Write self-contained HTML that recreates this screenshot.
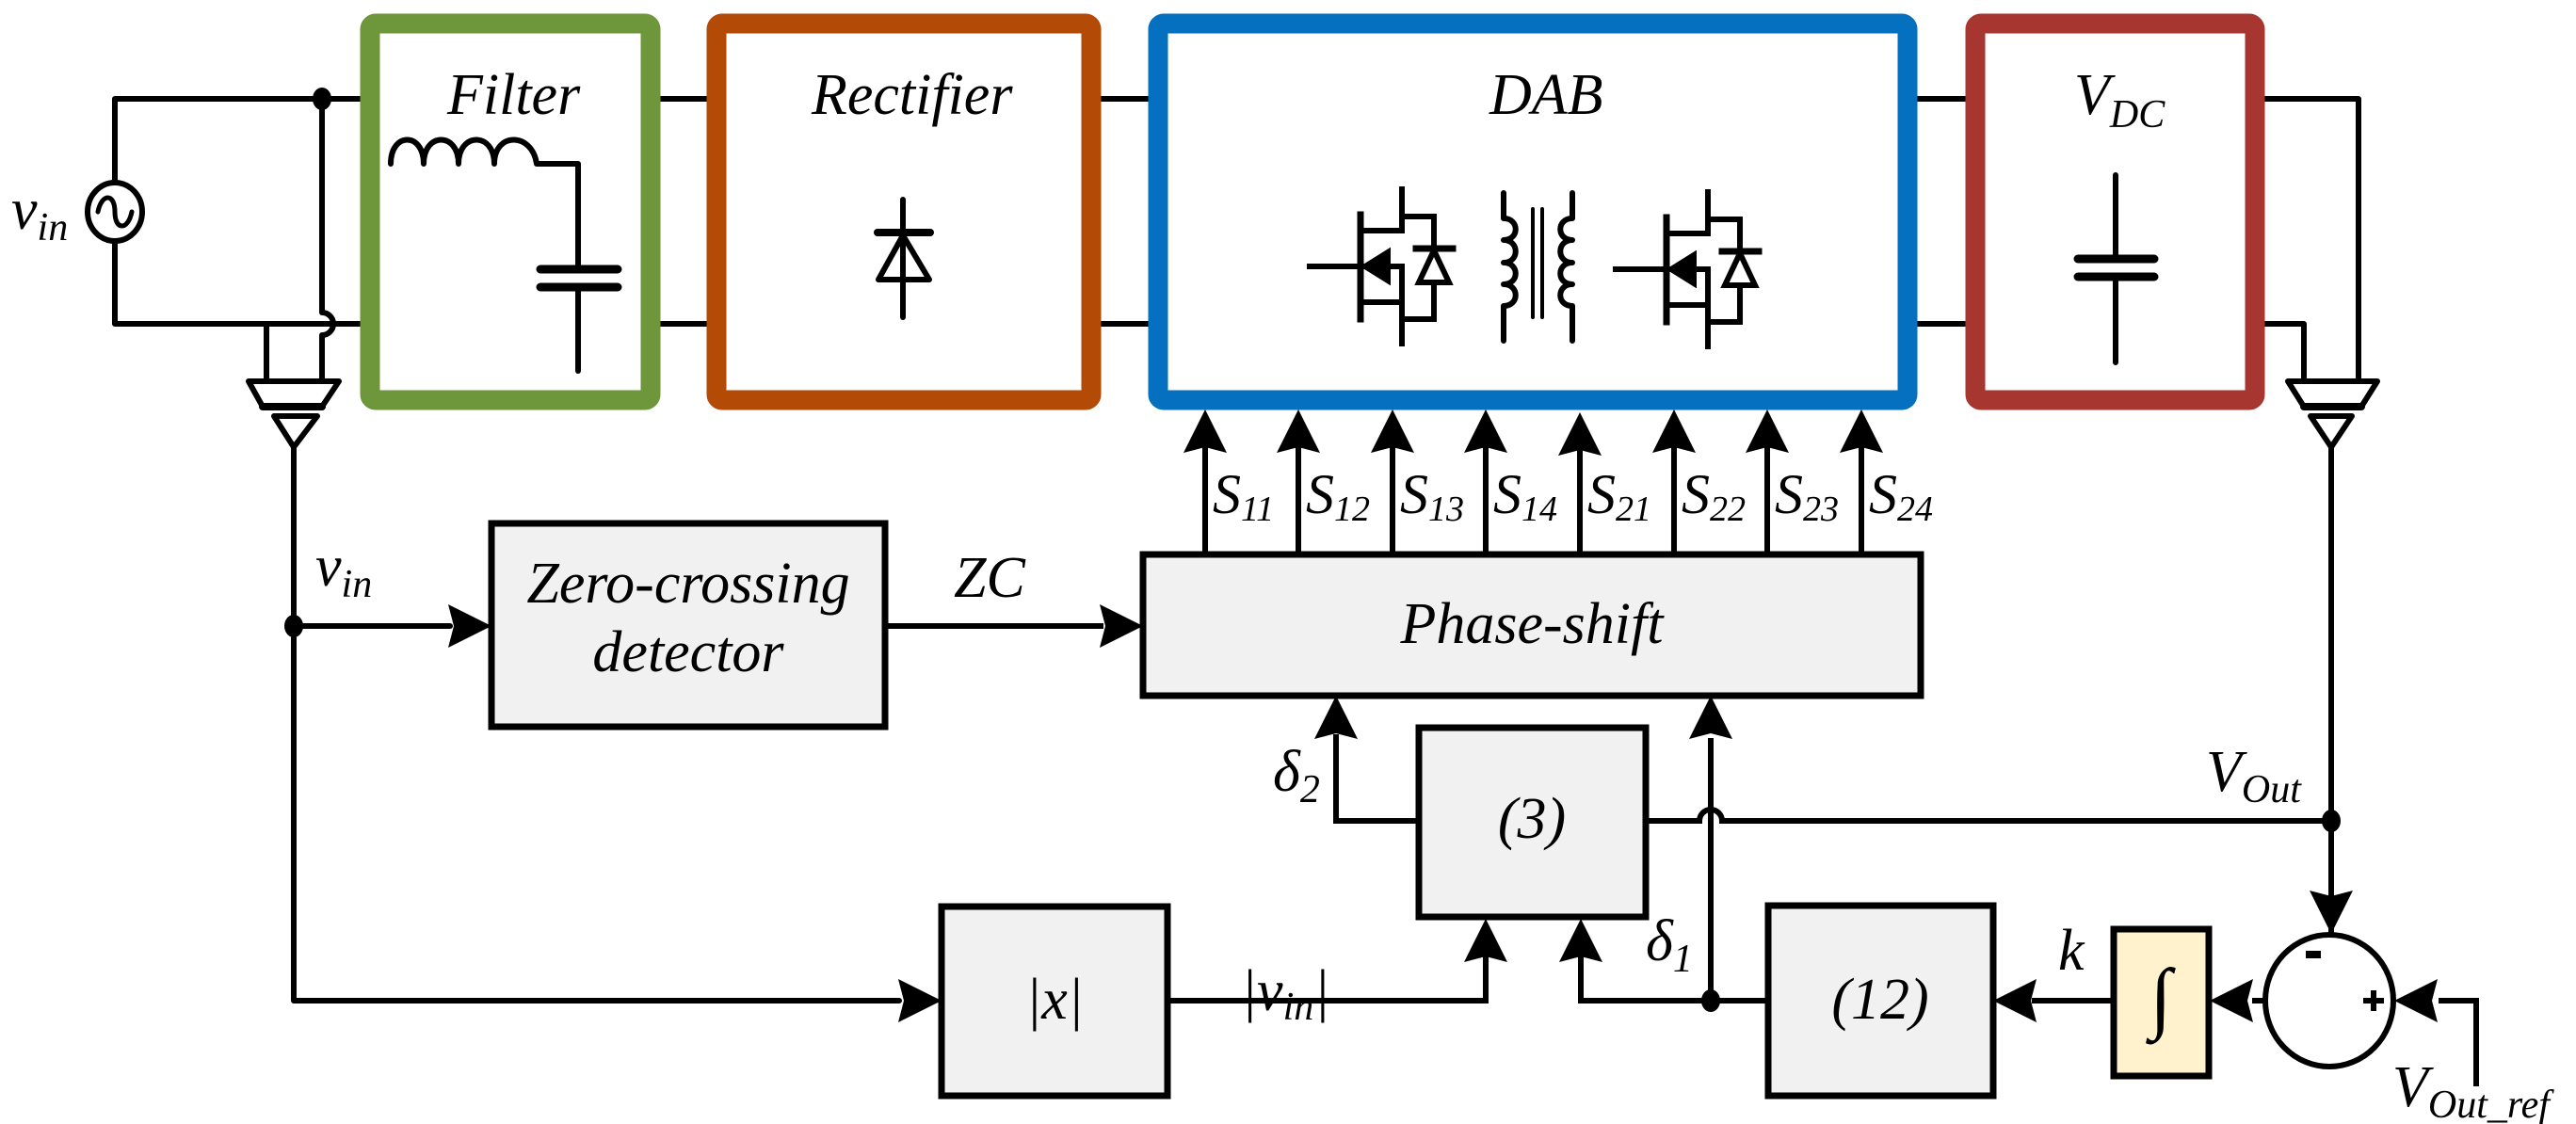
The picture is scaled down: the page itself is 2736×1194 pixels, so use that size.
<!DOCTYPE html>
<html><head><meta charset="utf-8"><style>
html,body{margin:0;padding:0;background:#fff;}
svg{display:block;}
svg text{font-family:"Liberation Serif","DejaVu Serif","Times New Roman",serif;font-style:italic;fill:#000;}
</style></head><body>
<svg width="2736" height="1194" viewBox="0 0 2736 1194" xmlns="http://www.w3.org/2000/svg">
<defs>
<path id="au" d="M0,0 L-23,46 L0,40 L23,46 Z"/>
</defs>
<g stroke="#000" stroke-width="6" fill="none" stroke-linecap="round" stroke-linejoin="round">
<path d="M122,193 V105 H383"/>
<path d="M122,256 V344 H383"/>
<ellipse cx="122" cy="225" rx="29" ry="31" fill="#fff"/>
<path d="M104,225 C108,205 122,205 122,225 C122,245 136,245 140,225" stroke-width="5"/>
<path d="M342,105 V332 A12,12 0 0 1 342,356 V405"/>
<path d="M283,344 V405"/>
<path d="M264,405 H360 L342,432 H279 Z" fill="#fff"/>
<path d="M279,432 H342" stroke-width="8"/>
<path d="M291,442 H337 L312,475 Z" fill="#fff"/>
<path d="M312,475 V1063 H955"/>
<path d="M312,665 H478"/>
<path d="M701,105 H751 M701,344 H751 M1169,105 H1220 M1169,344 H1220 M2036,105 H2087 M2036,344 H2087"/>
<path d="M2405,105 H2505 V405"/>
<path d="M2405,344 H2447 V405"/>
<path d="M2430,405 H2525 L2508,432 H2447 Z" fill="#fff"/>
<path d="M2447,432 H2508" stroke-width="8"/>
<path d="M2454,442 H2498 L2476,475 Z" fill="#fff"/>
<path d="M2476,475 V990"/>
<path d="M415,174 C415,140 450,140 450,174 C450,140 487,140 487,174 C487,140 525,140 525,174 C525,140 565,140 570,174 H614 V286"/>
<path d="M574,286 H656 M574,305 H656" stroke-width="9"/>
<path d="M614,305 V394"/>
<path d="M959,212 V337"/>
<path d="M932,247 H988" stroke-width="8"/>
<path d="M959,250 L933,297 H987 Z"/>
<path d="M2247,186 V275 M2247,294 V385"/>
<path d="M2207,275 H2288 M2207,294 H2288" stroke-width="9"/>
<path d="M1597,205 V232 C1614,232 1614,255 1597,255 C1614,255 1614,279 1597,279 C1614,279 1614,302 1597,302 C1614,302 1614,325 1597,325 V362"/>
<path d="M1670,205 V232 C1653,232 1653,255 1670,255 C1653,255 1653,279 1670,279 C1653,279 1653,302 1670,302 C1653,302 1653,325 1670,325 V362"/>
<path d="M1628,222 V337 M1638,222 V337" stroke-width="4"/>
</g>
<g id="m1" stroke="#000" stroke-width="6" fill="none" stroke-linecap="square">
<path d="M1391,283 H1445"/>
<path d="M1445,228 V339" stroke-width="7"/>
<path d="M1489,201 V245 H1450 M1450,283 H1489 V321 H1450 M1489,321 V365"/>
<path d="M1489,230 H1523 V339 H1489"/>
<path d="M1504,264 H1543" stroke-width="7"/>
<path d="M1523,266 L1507,300 H1539 Z" fill="#fff"/>
<path d="M1450,283 L1474,268 V298 Z" fill="#000"/>
</g>
<use href="#m1" x="325" y="3"/>
<g fill="none">
<rect x="393" y="25" width="298" height="400" rx="6" stroke="#6e963a" stroke-width="21"/>
<rect x="761" y="25" width="398" height="400" rx="6" stroke="#b34a06" stroke-width="21"/>
<rect x="1230" y="25" width="796" height="400" rx="6" stroke="#0570c0" stroke-width="21"/>
<rect x="2098" y="25" width="297" height="400" rx="6" stroke="#a83630" stroke-width="21"/>
</g>
<g stroke="#000" stroke-width="6">
<path d="M1280,470 V587 M1379,470 V587 M1479,470 V587 M1578,470 V587 M1678,470 V587 M1778,470 V587 M1877,470 V587 M1977,470 V587"/>
</g>
<g fill="#000">
<use href="#au" x="1280" y="435"/><use href="#au" x="1379" y="435"/><use href="#au" x="1479" y="435"/><use href="#au" x="1578" y="435"/>
<use href="#au" x="1678" y="438"/><use href="#au" x="1778" y="435"/><use href="#au" x="1877" y="435"/><use href="#au" x="1977" y="435"/>
</g>
<g stroke="#000" stroke-width="7" fill="#f1f1f1">
<rect x="522" y="556" width="418" height="216"/>
<rect x="1214" y="589" width="826" height="150"/>
<rect x="1507" y="773" width="241" height="201"/>
<rect x="1000" y="963" width="240" height="201"/>
<rect x="1878" y="962" width="239" height="202"/>
<rect x="2245" y="987" width="101" height="156" fill="#fff2cc"/>
</g>
<g stroke="#000" stroke-width="6" fill="none">
<path d="M940,665 H1172"/>
<path d="M1240,1063 H1578 V1015"/>
<path d="M1507,872 H1419 V780"/>
<path d="M1748,872 H1805 A12,12 0 0 1 1829,872 H2476"/>
<path d="M2476,872 V950"/>
<path d="M1878,1063 H1679 V1015"/>
<path d="M1817,1063 V784"/>
<path d="M2245,1063 H2158"/>
<path d="M2405,1063 H2392"/>
<path d="M2630,1154 V1063 H2590"/>
<ellipse cx="2474" cy="1063" rx="68" ry="70" fill="#fff"/>
<path d="M2449,1014 H2465" stroke-width="8"/>
<path d="M2510,1063 H2532 M2521,1052 V1074" stroke-width="6"/>
</g>
<g fill="#000">
<use href="#au" transform="translate(1214,665) rotate(90)"/>
<use href="#au" transform="translate(522,665) rotate(90)"/>
<use href="#au" transform="translate(1000,1063) rotate(90)"/>
<use href="#au" x="1419" y="739"/>
<use href="#au" x="1817" y="739"/>
<use href="#au" x="1578" y="976"/>
<use href="#au" x="1679" y="976"/>
<use href="#au" transform="translate(2476,992) rotate(180)"/>
<use href="#au" transform="translate(2117,1063) rotate(-90)"/>
<use href="#au" transform="translate(2347,1063) rotate(-90)"/>
<use href="#au" transform="translate(2543,1063) rotate(-90)"/>
<ellipse cx="342" cy="105" rx="10" ry="12"/>
<ellipse cx="312" cy="665" rx="10" ry="12"/>
<ellipse cx="2476" cy="872" rx="10" ry="12"/>
<ellipse cx="1817" cy="1063" rx="10" ry="12"/>
</g>
<g font-size="62">
<text x="12" y="243">v<tspan font-size="42" dy="12">in</tspan></text>
<text x="475" y="121">Filter</text>
<text x="862" y="121">Rectifier</text>
<text x="1582" y="121">DAB</text>
<text x="2203" y="121">V<tspan font-size="42" dy="14">DC</tspan></text>
<text x="335" y="622">v<tspan font-size="42" dy="12">in</tspan></text>
<text x="731" y="640" text-anchor="middle">Zero-crossing</text>
<text x="731" y="713" text-anchor="middle">detector</text>
<text x="1013" y="634">ZC</text>
<text x="1627" y="683" text-anchor="middle">Phase-shift</text>
<text x="1627" y="890" text-anchor="middle">(3)</text>
<text x="1120" y="1082" text-anchor="middle">|x|</text>
<text x="1997" y="1082" text-anchor="middle">(12)</text>
<text x="1318" y="1073">|v<tspan font-size="42" dy="10">in</tspan><tspan dy="-10">|</tspan></text>
<text x="1352" y="840">δ<tspan font-size="42" dy="12">2</tspan></text>
<text x="1748" y="1020">δ<tspan font-size="42" dy="12">1</tspan></text>
<text x="2186" y="1030">k</text>
<text x="2343" y="840">V<tspan font-size="42" dy="12">Out</tspan></text>
<text x="2541" y="1175">V<tspan font-size="42" dy="12">Out_ref</tspan></text>
<text x="2295" y="1087" text-anchor="middle" font-size="84" style="font-style:normal">∫</text>
</g>
<g font-size="60">
<text x="1288" y="545">S<tspan font-size="38" dy="8">11</tspan></text>
<text x="1387" y="545">S<tspan font-size="38" dy="8">12</tspan></text>
<text x="1487" y="545">S<tspan font-size="38" dy="8">13</tspan></text>
<text x="1586" y="545">S<tspan font-size="38" dy="8">14</tspan></text>
<text x="1686" y="545">S<tspan font-size="38" dy="8">21</tspan></text>
<text x="1786" y="545">S<tspan font-size="38" dy="8">22</tspan></text>
<text x="1885" y="545">S<tspan font-size="38" dy="8">23</tspan></text>
<text x="1985" y="545">S<tspan font-size="38" dy="8">24</tspan></text>
</g>
</svg>
</body></html>
